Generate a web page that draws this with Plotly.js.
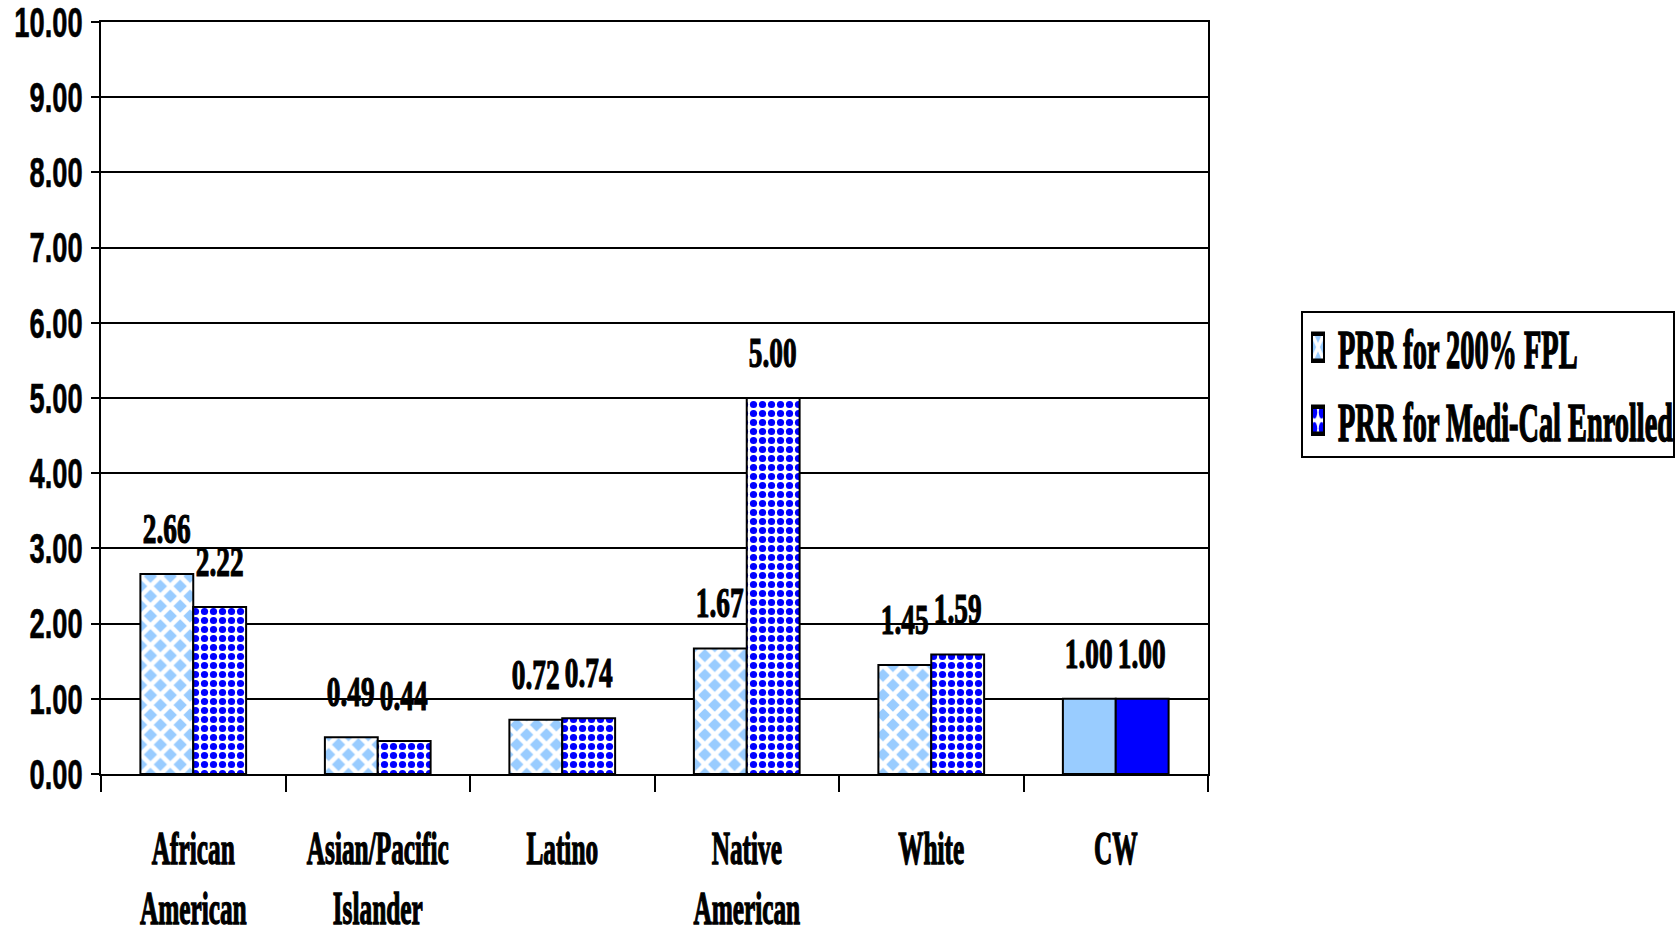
<!DOCTYPE html>
<html>
<head>
<meta charset="utf-8">
<script src="https://cdn.plot.ly/plotly-3.0.1.min.js"></script>
<style>html,body{margin:0;padding:0;background:#fff;}#chart{width:1675px;height:926px;}</style>
</head>
<body>
<div id="chart"></div>
<script>
// ---- data ----
var categories = ["African<br>American", "Asian/Pacific<br>Islander", "Latino", "Native<br>American", "White", "CW"];
var prrFPL = [2.66, 0.49, 0.72, 1.67, 1.45, 1.00];
var prrMediCal = [2.22, 0.44, 0.74, 5.00, 1.59, 1.00];
var seriesNames = ["PRR for 200% FPL", "PRR for Medi-Cal Enrolled"];
var yTickVals = [0, 1, 2, 3, 4, 5, 6, 7, 8, 9, 10];

var fplShapes = ["x", "x", "x", "x", "x", ""];
var mcShapes = [".", ".", ".", ".", ".", ""];

var serif = "Liberation Serif, Times New Roman, serif";
var sans = "Liberation Sans, Arial, sans-serif";

var traces = [
  {
    type: "bar", name: seriesNames[0], x: categories, y: prrFPL,
    marker: {
      color: "#99CCFF",
      line: {color: "#000000", width: 2},
      pattern: {shape: fplShapes, fgcolor: "#FFFFFF", bgcolor: "#99CCFF", size: 14, solidity: 0.55}
    },
    hoverinfo: "skip"
  },
  {
    type: "bar", name: seriesNames[1], x: categories, y: prrMediCal,
    marker: {
      color: "#0000FF",
      line: {color: "#000000", width: 2},
      pattern: {shape: mcShapes, fgcolor: "#0000FF", bgcolor: "#FFFFFF", size: 9, solidity: 0.5}
    },
    hoverinfo: "skip"
  }
];

var annotations = [];
[prrFPL, prrMediCal].forEach(function (vals, j) {
  vals.forEach(function (v, i) {
    annotations.push({
      x: categories[i], y: v, xref: "x", yref: "y",
      text: v.toFixed(2), showarrow: false,
      xshift: j === 0 ? -26.3 : 26.3, yshift: 45,
      yanchor: "middle", xanchor: "center",
      font: {family: serif, size: 42, color: "#000", weight: "bold"}
    });
  });
});

var layout = {
  width: 1675, height: 926,
  margin: {l: 101, r: 467, t: 22, b: 152, autoexpand: false},
  paper_bgcolor: "#FFFFFF", plot_bgcolor: "#FFFFFF",
  barmode: "group", bargap: 0.427, bargroupgap: 0,
  showlegend: true,
  legend: {
    x: 1.0795, y: 0.6256, xanchor: "left", yanchor: "top",
    bgcolor: "#FFFFFF", bordercolor: "#000000", borderwidth: 2,
    font: {family: serif, size: 54, color: "#000", weight: "bold"},
    tracegroupgap: 0
  },
  xaxis: {
    type: "category", tickson: "boundaries", tickangle: 0,
    ticks: "outside", ticklen: 16, tickwidth: 2, tickcolor: "#000",
    showline: true, linecolor: "#000", linewidth: 2, mirror: true,
    showgrid: false, zeroline: false,
    ticklabelstandoff: 33,
    tickfont: {family: serif, size: 46, color: "#000", weight: "bold"}
  },
  yaxis: {
    range: [0, 10], tickvals: yTickVals, tickformat: ".2f",
    ticks: "outside", ticklen: 8, tickwidth: 2, tickcolor: "#000",
    showline: true, linecolor: "#000", linewidth: 2, mirror: true,
    showgrid: true, gridcolor: "#000", gridwidth: 2, zeroline: false,
    ticklabeloverflow: "allow",
    tickfont: {family: sans, size: 42, color: "#000", weight: "bold"}
  },
  annotations: annotations
};

var gd = document.getElementById("chart");
Plotly.newPlot(gd, traces, layout, {staticPlot: true, responsive: false}).then(function () {
  function squeeze(sel, s, sw) {
    gd.querySelectorAll(sel).forEach(function (t) {
      var x = parseFloat(t.getAttribute("x")) || 0;
      var prev = t.getAttribute("transform") || "";
      t.setAttribute("transform", prev + " translate(" + x + ",0) scale(" + s + ",1) translate(" + (-x) + ",0)");
      t.style.stroke = "#000";
      t.style.strokeWidth = sw + "px";
    });
  }
  squeeze(".ytick text", 0.65, 0.6);
  squeeze(".xtick text", 0.55, 1.4);
  squeeze(".annotation-text", 0.65, 1.2);
  squeeze(".legendtext", 0.525, 1.6);
  gd.querySelectorAll(".legend rect.bg").forEach(function (r) {
    var x = parseFloat(r.getAttribute("x")) || 0;
    var y = parseFloat(r.getAttribute("y")) || 0;
    r.setAttribute("x", x + 5);
    r.setAttribute("y", y + 7);
    r.setAttribute("width", 372);
    r.setAttribute("height", 145);
  });
  gd.querySelectorAll(".legend .legendpoints path").forEach(function (p) {
    var prev = p.getAttribute("transform") || "";
    p.setAttribute("transform", prev + " scale(1,2.25)");
  });
});
</script>
</body>
</html>
